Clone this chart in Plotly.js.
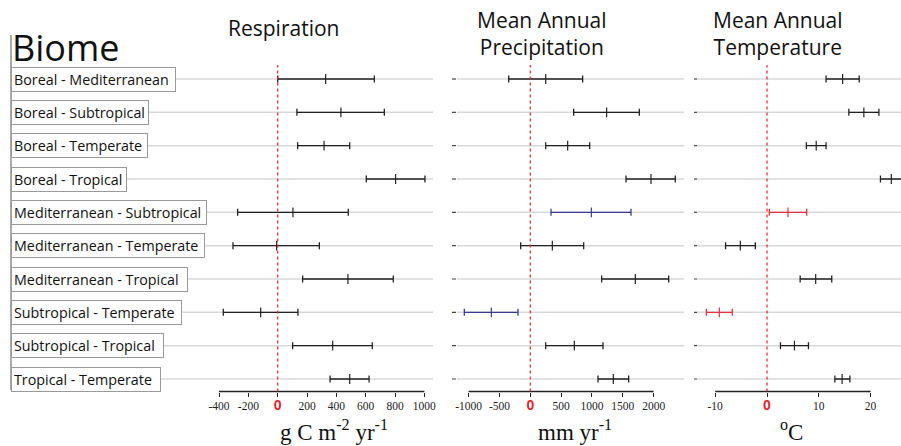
<!DOCTYPE html>
<html>
<head>
<meta charset="utf-8">
<script src="https://cdn.plot.ly/plotly-3.0.1.min.js"></script>
<style>html,body{margin:0;padding:0;background:#fff;}#chart{width:901px;height:446px;}</style>
</head>
<body>
<div id="chart"></div>
<script>
const biomes = ["Boreal - Mediterranean","Boreal - Subtropical","Boreal - Temperate","Boreal - Tropical",
  "Mediterranean - Subtropical","Mediterranean - Temperate","Mediterranean - Tropical",
  "Subtropical - Temperate","Subtropical - Tropical","Tropical - Temperate"];
const respLow  = [0, 131, 136, 604, -273, -305, 170, -371, 102, 357];
const respMid  = [327, 431, 316, 804, 104, -7, 479, -116, 375, 491];
const respHigh = [659, 727, 491, 1004, 481, 284, 788, 138, 645, 623];
const precLow  = [-350, 703, 250, 1552, 336, -156, 1157, -1070, 250, 1098];
const precMid  = [250, 1238, 606, 1957, 990, 357, 1703, -632, 714, 1346];
const precHigh = [849, 1768, 963, 2351, 1633, 866, 2244, -200, 1179, 1595];
const tempLow  = [11.4, 15.8, 7.6, 21.9, 0.45, -8.0, 6.4, -11.7, 2.6, 13.1];
const tempMid  = [14.6, 18.7, 9.5, 24.0, 4.05, -5.15, 9.4, -9.2, 5.3, 14.5];
const tempHigh = [17.8, 21.6, 11.4, 26.1, 7.66, -2.25, 12.5, -6.7, 8.0, 16.0];
const respTicks = [-400, -200, 0, 200, 400, 600, 800, 1000];
const precTicks = [-1000, -500, 0, 500, 1000, 1500, 2000];
const tempTicks = [-10, 0, 10, 20];
const panelTitles = ["Respiration", "Mean Annual<br>Precipitation", "Mean Annual<br>Temperature"];
const unitTitles = ["g C m<sup>-2</sup> yr<sup>-1</sup>", "mm yr<sup>-1</sup>", "<sup>o</sup>C"];

const W = 901, H = 446;
const BLACK = "#222", BLUE = "#3b3b95", RED = "#e8313c";
const respColors = biomes.map(() => BLACK);
const precColors = biomes.map((b, i) => (i === 4 || i === 7) ? BLUE : BLACK);
const tempColors = biomes.map((b, i) => (i === 4 || i === 7) ? RED : BLACK);

const yIdx = biomes.map((b, i) => i);
const axisBottom = 391.5;
const yDomBottom = (H - axisBottom) / H;
const rowTop = 79, rowStep = 33.333;

function px(x) { return x / W; }
function py(y) { return (H - y) / H; }

const panels = [
  {low: respLow, mid: respMid, high: respHigh, colors: respColors, xa: "x", ticks: respTicks},
  {low: precLow, mid: precMid, high: precHigh, colors: precColors, xa: "x2", ticks: precTicks},
  {low: tempLow, mid: tempMid, high: tempHigh, colors: tempColors, xa: "x3", ticks: tempTicks}
];

const traces = [];
panels.forEach(p => {
  biomes.forEach((b, i) => {
    traces.push({
      type: "scatter", mode: "markers", xaxis: p.xa, yaxis: "y",
      x: [p.mid[i]], y: [yIdx[i]],
      marker: {symbol: "line-ns", size: 7, color: p.colors[i], line: {color: p.colors[i], width: 1.2}},
      error_x: {type: "data", symmetric: false, array: [p.high[i] - p.mid[i]], arrayminus: [p.mid[i] - p.low[i]],
        color: p.colors[i], thickness: 1.3, width: 3.5},
      showlegend: false, hoverinfo: "skip", cliponaxis: true
    });
  });
});

function tickText(vals) {
  return vals.map(v => v === 0 ? '<span style="color:#e8202a;font-family:Liberation Sans;font-size:14px"><b>0</b></span>' : String(v));
}

function xaxisDef(domain, range, ticks) {
  return {
    domain: domain, range: range, anchor: "y",
    showgrid: false, zeroline: false, showline: false,
    tickmode: "array", tickvals: ticks, ticktext: tickText(ticks),
    ticks: "outside", ticklen: 4, tickwidth: 1, tickcolor: "#222",
    tickfont: {family: "Liberation Serif", size: 11.5, color: "#222"},
    fixedrange: true
  };
}

const shapes = [];
const gridSpans = [[11, 433], [457, 684], [697, 901]];
biomes.forEach((b, i) => {
  gridSpans.forEach(s => {
    shapes.push({type: "line", xref: "paper", yref: "y", x0: px(s[0]), x1: px(s[1]), y0: yIdx[i], y1: yIdx[i],
      line: {color: "#d8d8d8", width: 1.5}, layer: "below"});
  });
  [[452, 456], [694, 697]].forEach(s => {
    shapes.push({type: "line", xref: "paper", yref: "y", x0: px(s[0]), x1: px(s[1]), y0: yIdx[i], y1: yIdx[i],
      line: {color: "#444", width: 1.2}, layer: "below"});
  });
});
panels.forEach(p => {
  shapes.push({type: "line", xref: p.xa, yref: "paper", x0: p.ticks[0], x1: p.ticks[p.ticks.length - 1],
    y0: yDomBottom, y1: yDomBottom, line: {color: "#222", width: 1.3}});
  shapes.push({type: "line", xref: p.xa, yref: "paper", x0: 0, x1: 0, y0: yDomBottom, y1: py(65),
    line: {color: "#e8202a", width: 1.2, dash: "dot"}});
});
shapes.push({type: "line", xref: "paper", yref: "paper", x0: px(11), x1: px(11), y0: py(35), y1: py(390),
  line: {color: "#555", width: 1}});

const boxRight = [175.7, 149, 147.7, 127, 206.7, 205.3, 187.7, 181.7, 164, 161];
const annotations = [];
biomes.forEach((b, i) => {
  annotations.push({
    xref: "paper", yref: "y", x: px(11), y: yIdx[i], xanchor: "left", yanchor: "middle",
    text: b, showarrow: false, align: "left", width: boxRight[i] - 17,
    bgcolor: "#fff", bordercolor: "#9a9a9a", borderwidth: 1, borderpad: 2,
    font: {family: "Open Sans", size: 14.3, color: "#111"}
  });
});
annotations.push({xref: "paper", yref: "paper", x: px(10), y: py(48), xanchor: "left", yanchor: "middle",
  text: "Biome", showarrow: false, font: {family: "Open Sans", size: 36, color: "#111"}});
const titlePos = [[283, 28], [542, 33.5], [778, 33.5]];
panelTitles.forEach((t, i) => {
  annotations.push({xref: "paper", yref: "paper", x: px(titlePos[i][0]), y: py(titlePos[i][1]),
    xanchor: "center", yanchor: "middle", text: t, showarrow: false,
    font: {family: "Open Sans", size: 21, color: "#111"}});
});
const unitPos = [[334, 430], [575, 430], [791, 430]];
unitTitles.forEach((t, i) => {
  annotations.push({xref: "paper", yref: "paper", x: px(unitPos[i][0]), y: py(unitPos[i][1]),
    xanchor: "center", yanchor: "middle", text: t, showarrow: false,
    font: {family: "Liberation Serif", size: 23, color: "#111"}});
});

function rangeFor(pxL, pxR, zeroPx, scale) {
  return [(pxL - zeroPx) / scale, (pxR - zeroPx) / scale];
}

const layout = {
  width: W, height: H, margin: {l: 0, r: 0, t: 0, b: 0, pad: 0},
  paper_bgcolor: "#fff", plot_bgcolor: "rgba(0,0,0,0)",
  showlegend: false,
  xaxis: xaxisDef([px(215), px(433)], rangeFor(215, 433, 277.7, 0.14667), respTicks),
  xaxis2: xaxisDef([px(457), px(684)], rangeFor(457, 684, 530.3, 0.061667), precTicks),
  xaxis3: xaxisDef([px(697), px(901)], rangeFor(697, 901, 767, 5.18), tempTicks),
  yaxis: {domain: [yDomBottom, 1], range: [(axisBottom - rowTop) / rowStep, -rowTop / rowStep],
    showgrid: false, zeroline: false, showline: false, showticklabels: false, ticks: "", fixedrange: true},
  shapes: shapes, annotations: annotations
};

Plotly.newPlot("chart", traces, layout, {displayModeBar: false, staticPlot: true});
</script>
</body>
</html>
